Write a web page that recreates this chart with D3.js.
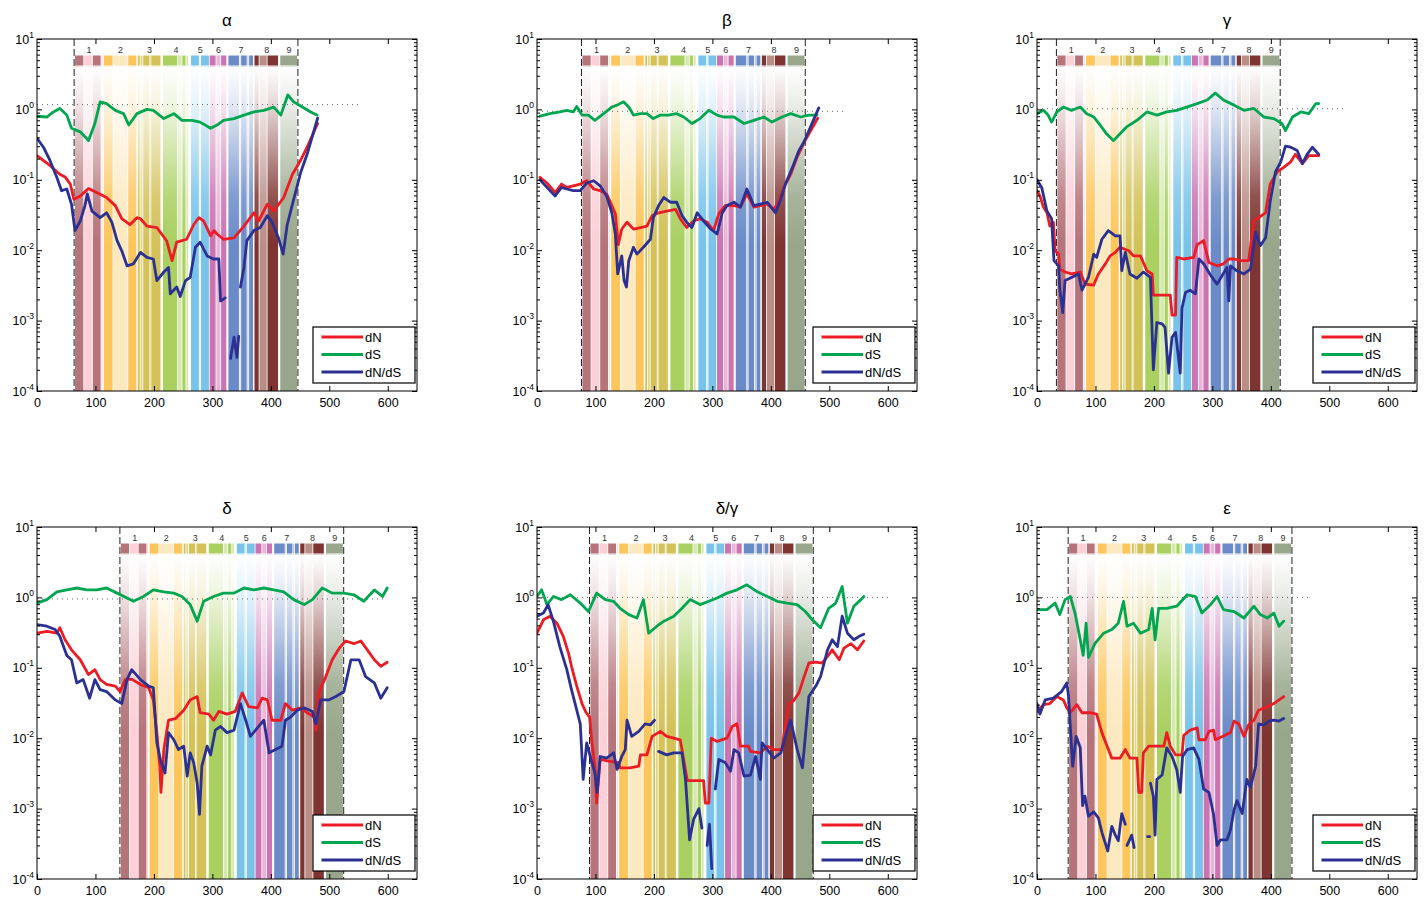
<!DOCTYPE html>
<html>
<head>
<meta charset="utf-8">
<script src="https://cdn.jsdelivr.net/npm/d3@7"></script>
<style>
body { margin: 0; background: #fff; }
svg { display: block; }
text { font-family: "Liberation Sans", Arial, sans-serif; }
</style>
</head>
<body>
<svg id="chart" width="1425" height="897"></svg>
<script>
// panel titles and where the domain bands begin in each panel
const titles = ['α', 'β', 'γ', 'δ', 'δ/γ', 'ε'];
const bandStart = [65.1, 77.7, 34.8, 143.4, 91.4, 54.9];
const dottedLevel = [1.17, 0.94, 1.02, 0.95, 1, 1];
const dottedEnd = [556, 528, 525, 595, 602, 468];

// band layout, offsets from band start: [from, to, group, shade]
const bandTemplate = [
  [0, 15.5, 0, 0], [15.5, 30.4, 0, 1], [30.4, 45.1, 0, 0], [45.1, 48, 0, 1],
  [49.2, 65.7, 1, 0], [65.7, 90.9, 1, 1], [90.9, 106.3, 1, 0],
  [107.5, 112, 2, 0], [112, 116.6, 2, 1], [116.6, 128.6, 2, 0], [128.6, 130.3, 2, 1], [130.3, 147.5, 2, 0],
  [150.4, 176.1, 3, 0], [176.1, 183.5, 3, 1], [183.5, 190.4, 3, 0], [190.4, 195, 3, 1],
  [198.4, 213.1, 4, 0], [213.1, 215.5, 4, 1], [215.5, 230.3, 4, 0],
  [230.3, 241.8, 5, 0], [241.8, 249.8, 5, 1], [249.8, 260.1, 5, 0],
  [262.3, 281.7, 6, 0], [281.7, 284.1, 6, 1], [284.1, 294.9, 6, 0], [294.9, 297.8, 6, 1], [297.8, 305.7, 6, 0],
  [306.9, 315.5, 7, 0], [315.5, 329.2, 7, 1], [329.2, 348.6, 7, 0],
  [351, 381.2, 8, 0]
];
const groupLabels = ['1', '2', '3', '4', '5', '6', '7', '8', '9'];
const groupColors = [
  ['#b5737a', '#fbd0d6'], ['#fdc65c', '#fde9c0'], ['#d3c258', '#e2d68c'],
  ['#a9d061', '#d5e9ae'], ['#79c3ea', '#b7def4'], ['#cc73b1', '#e8b6d8'],
  ['#6b8bc8', '#a9bce2'], ['#7e3431', '#b98e86'], ['#98a78b', '#c9d1c0']
];

const seriesNames = ['dN', 'dS', 'dN/dS'];
const seriesColors = ['#ec1c24', '#00a650', '#2b3192'];
const xTicks = [0, 100, 200, 300, 400, 500, 600];
const yTicks = [1e-4, 1e-3, 1e-2, 1e-1, 1, 10];
const yTickExp = ['-4', '-3', '-2', '-1', '0', '1'];

// alpha
const alphaDN = [[0,.22],[22,.16],[39,.12],[48,.11],[57,.087],[63,.053],[74,.059],[88,.075],[102,.066],[119,.056],[134,.043],[145,.028],[159,.023],[171,.029],[177,.028],[188,.022],[205,.021],[222,.0135],[231,.0071],[239,.013],[256,.0143],[268,.023],[277,.029],[285,.026],[297,.016],[303,.019],[308,.017],[319,.0143],[337,.015],[354,.022],[371,.034],[379,.026],[394,.045],[405,.036],[422,.056],[437,.12],[451,.19],[462,.29],[480,.63]];
const alphaDS = [[0,.8],[17,.78],[28,.92],[39,1.03],[51,.83],[59,.54],[74,.48],[82,.41],[88,.36],[99,.63],[108,1.28],[119,1.21],[134,.97],[148,.87],[157,.6],[171,.87],[188,1.0],[199,.97],[217,.74],[234,.87],[248,.7],[265,.7],[279,.66],[297,.54],[308,.6],[319,.7],[337,.74],[354,.83],[371,.92],[388,.97],[405,1.08],[417,.83],[429,1.6],[439,1.28],[454,1.08],[468,.92],[479,.83]];
const alphaW = [[0,.39],[11,.29],[22,.19],[34,.108],[42,.07],[51,.074],[59,.045],[65,.019],[74,.026],[82,.043],[86,.063],[94,.036],[108,.029],[119,.034],[128,.025],[137,.0137],[145,.0098],[154,.006],[165,.0064],[177,.0093],[188,.0079],[199,.0075],[205,.0037],[217,.0049],[225,.0057],[228,.0024],[239,.003],[245,.0022],[254,.0037],[262,.0041],[271,.011],[279,.013],[291,.0083],[302,.0075],[311,.0075],[314,.0019],[322,.0021],[326,null],[331,.00029],[337,.00058],[342,.0003],[345,.0006],[346,null],[348,.003],[354,.0057],[359,.0137],[371,.019],[382,.021],[394,.031],[402,.025],[413,.015],[421,.0088],[428,.023],[437,.045],[451,.127],[462,.23],[480,.75]];

// beta
const betaDN = [[5,.108],[17,.09],[31,.066],[42,.087],[51,.078],[62,.082],[74,.087],[85,.097],[97,.074],[108,.07],[119,.063],[128,.043],[134,.033],[139,.012],[145,.02],[154,.025],[165,.02],[177,.021],[188,.022],[197,.031],[208,.034],[222,.036],[237,.038],[245,.028],[256,.021],[268,.026],[279,.028],[291,.025],[302,.019],[311,.033],[322,.043],[337,.043],[348,.041],[359,.063],[371,.041],[382,.043],[394,.045],[405,.038],[414,.05],[422,.078],[434,.12],[445,.21],[457,.34],[480,.75]];
const betaDS = [[5,.8],[22,.87],[39,.92],[51,.97],[62,.92],[68,1.1],[77,.83],[88,.83],[99,.7],[114,.87],[128,1.08],[137,1.15],[148,1.28],[157,1.08],[165,.83],[177,.87],[188,.87],[199,.74],[211,.83],[225,.83],[239,.87],[251,.78],[265,.63],[279,.74],[294,.97],[308,.83],[319,.78],[337,.78],[354,.63],[371,.7],[388,.78],[402,.66],[419,.78],[434,.87],[451,.78],[465,.83],[479,.83]];
const betaW = [[5,.1],[17,.078],[31,.059],[42,.078],[51,.074],[62,.07],[74,.07],[85,.09],[97,.097],[108,.082],[119,.059],[128,.034],[134,.017],[138,.0046],[145,.0083],[149,.0037],[153,.003],[157,.0071],[165,.011],[171,.0088],[182,.011],[194,.0143],[199,.029],[208,.043],[217,.056],[228,.048],[239,.048],[248,.031],[256,.025],[265,.021],[274,.034],[285,.026],[297,.02],[308,.017],[317,.034],[325,.043],[337,.048],[348,.041],[359,.074],[371,.043],[382,.045],[394,.048],[408,.034],[417,.053],[425,.087],[437,.15],[448,.26],[457,.35],[482,1.05]];

// gamma
const gammaDN = [[0,.07],[5,.059],[11,.041],[17,.034],[22,.022],[28,.025],[31,.0098],[37,.0088],[39,.0054],[48,.0049],[59,.0046],[74,.0049],[82,.0033],[97,.0032],[105,.0046],[117,.0064],[125,.0083],[134,.0093],[142,.011],[157,.0098],[165,.0083],[177,.0083],[188,.0051],[197,.0046],[199,.0023],[217,.0023],[228,.0023],[231,.0012],[237,.0012],[239,.0079],[251,.0075],[268,.0079],[274,.012],[285,.0137],[294,.0067],[308,.006],[319,.0064],[328,.0075],[337,.0075],[348,.0071],[362,.0071],[371,.026],[379,.029],[391,.034],[399,.087],[411,.13],[422,.15],[434,.18],[442,.23],[454,.17],[465,.22],[482,.22]];
const gammaDS = [[0,.87],[11,.97],[19,.83],[25,.66],[34,.92],[45,1.08],[59,.97],[74,1.08],[85,.87],[97,.78],[108,.6],[119,.45],[131,.36],[142,.45],[154,.57],[171,.7],[188,.92],[205,.83],[222,.92],[239,.97],[256,1.08],[274,1.21],[291,1.36],[305,1.7],[319,1.36],[337,1.15],[354,.97],[371,1.03],[388,.78],[405,.74],[419,.63],[425,.5],[437,.78],[451,.92],[465,.87],[477,1.21],[482,1.21]];
const gammaW = [[0,.1],[8,.078],[17,.036],[25,.028],[29,.0071],[37,.006],[39,.0028],[44,.0013],[48,.0037],[59,.0041],[71,.0046],[77,.0027],[88,.0041],[97,.0088],[102,.0079],[111,.0143],[122,.019],[134,.016],[142,.016],[145,.0051],[151,.0093],[159,.0046],[171,.004],[182,.0049],[194,.0041],[199,.0002],[205,.00094],[214,.0009],[219,.0008],[225,.00018],[231,.00058],[237,.00068],[245,.00018],[248,.0015],[254,.0025],[262,.0027],[271,.0024],[277,.0075],[285,.0064],[297,.0044],[308,.0033],[317,.0044],[325,.0057],[328,.0019],[331,.006],[342,.0051],[354,.0046],[365,.0054],[374,.018],[382,.0116],[391,.015],[399,.05],[408,.13],[417,.18],[425,.3],[434,.29],[445,.26],[454,.17],[462,.23],[471,.29],[482,.23]];

// delta
const deltaDN = [[0,.31],[17,.33],[34,.31],[39,.37],[48,.25],[59,.18],[74,.13],[88,.08],[99,.094],[108,.068],[119,.058],[134,.055],[142,.046],[151,.068],[162,.069],[177,.058],[191,.052],[199,.035],[205,.012],[210,.004],[212,.0017],[217,.0069],[225,.018],[237,.019],[251,.025],[262,.035],[274,.039],[279,.023],[294,.022],[302,.018],[311,.024],[325,.022],[339,.024],[351,.044],[362,.028],[377,.027],[385,.037],[394,.035],[402,.018],[417,.018],[425,.031],[437,.025],[451,.027],[462,.023],[474,.02],[477,.013],[482,.044],[494,.075],[505,.13],[517,.19],[528,.24],[542,.22],[554,.24],[565,.18],[577,.13],[588,.105],[599,.12]];
const deltaDS = [[0,.83],[17,.93],[34,1.2],[51,1.28],[68,1.36],[85,1.28],[102,1.28],[119,1.36],[137,1.15],[154,.98],[165,.88],[182,1.03],[199,1.28],[217,1.2],[234,1.15],[248,1.03],[262,.79],[274,.46],[285,.88],[302,1.03],[319,1.15],[337,1.15],[354,1.36],[371,1.28],[388,1.36],[405,1.28],[422,1.2],[439,.93],[457,.79],[471,.93],[488,1.36],[505,1.15],[525,1.15],[542,1.09],[559,.88],[577,1.28],[591,1.03],[599,1.36]];
const deltaW = [[0,.41],[17,.39],[31,.35],[39,.28],[51,.15],[59,.13],[68,.061],[79,.068],[90,.037],[99,.068],[108,.049],[119,.046],[134,.035],[145,.031],[154,.068],[162,.094],[177,.068],[191,.055],[199,.052],[205,.0086],[211,.005],[219,.0032],[225,.012],[234,.0095],[242,.0069],[251,.0077],[257,.0029],[262,.0062],[268,.0045],[274,.0023],[278,.00083],[282,.004],[291,.0077],[297,.0058],[305,.013],[314,.0147],[325,.012],[337,.013],[348,.031],[357,.018],[365,.0106],[377,.014],[388,.018],[397,.0062],[408,.0069],[419,.0077],[425,.018],[434,.02],[445,.025],[457,.027],[471,.024],[477,.016],[485,.035],[499,.035],[511,.039],[525,.046],[537,.13],[551,.13],[562,.075],[577,.061],[588,.037],[599,.052]];

// delta/gamma
const dgDN = [[0,.31],[11,.48],[22,.54],[34,.43],[45,.28],[54,.16],[59,.105],[68,.055],[77,.031],[84,.023],[90,.02],[94,.0086],[99,.004],[102,.0012],[108,.005],[125,.0047],[139,.0045],[142,.0038],[159,.0038],[174,.004],[177,.0058],[188,.0058],[197,.0106],[211,.0125],[222,.0106],[234,.01],[245,.0095],[248,.0069],[257,.0025],[268,.0025],[285,.0025],[288,.0012],[294,.0012],[298,.01],[308,.009],[325,.01],[334,.0147],[342,.016],[348,.0077],[362,.0077],[365,.0065],[382,.0062],[394,.0077],[405,.0069],[419,.0069],[422,.0106],[431,.031],[439,.034],[448,.044],[457,.075],[465,.117],[477,.12],[488,.117],[497,.145],[505,.18],[517,.13],[525,.19],[537,.22],[548,.18],[559,.24]];
const dgDS = [[0,1.03],[8,1.28],[17,.79],[28,1.03],[42,.93],[57,1.09],[74,.83],[88,.63],[102,1.15],[117,.93],[131,.88],[142,.7],[157,.57],[171,.51],[182,.93],[191,.31],[205,.39],[217,.46],[234,.54],[248,.7],[262,.93],[279,.79],[294,.88],[308,.98],[325,1.15],[342,1.28],[359,1.51],[377,1.2],[394,1.03],[411,.88],[428,.83],[445,.79],[459,.63],[471,.48],[485,.37],[499,.7],[511,.83],[522,1.43],[531,.43],[542,.75],[554,.93],[559,1.03]];
const dgW = [[0,.54],[11,.6],[19,.79],[28,.46],[39,.2],[51,.094],[59,.049],[68,.025],[74,.016],[79,.0026],[85,.0086],[91,.0055],[99,.0032],[103,.0017],[108,.0055],[119,.0052],[131,.0062],[137,.0036],[145,.0055],[151,.0069],[154,.018],[162,.0106],[174,.0125],[185,.016],[194,.0155],[201,.018],[204,null],[208,.0065],[222,.0058],[234,.0062],[248,.0062],[254,.0026],[261,.00036],[268,.00071],[277,.001],[282,.00053],[286,null],[291,.0003],[295,.0006],[299,.00014],[302,null],[305,.0019],[311,.005],[322,.0045],[331,.0034],[337,.0069],[345,.0062],[354,.0029],[365,.003],[374,.0055],[382,.0026],[385,.0086],[394,.0069],[405,.0052],[417,.0062],[428,.013],[434,.018],[445,.0069],[454,.0038],[459,.0106],[465,.039],[477,.055],[485,.075],[497,.18],[505,.25],[514,.2],[522,.54],[531,.31],[542,.25],[551,.28],[559,.3]];

// epsilon
const epsDN = [[0,.024],[11,.03],[22,.031],[34,.039],[45,.035],[51,.027],[57,.023],[68,.03],[77,.023],[91,.023],[102,.022],[111,.012],[119,.0081],[128,.0052],[142,.0052],[151,.0069],[159,.0052],[171,.0052],[174,.0017],[179,.0017],[182,.0062],[191,.0077],[205,.0077],[217,.0077],[222,.012],[228,.0077],[237,.0058],[248,.0058],[251,.011],[262,.013],[274,.014],[277,.0095],[288,.0095],[294,.0125],[302,.013],[305,.0095],[317,.0106],[331,.012],[337,.0175],[345,.016],[354,.0106],[362,.0155],[371,.018],[379,.025],[394,.028],[405,.031],[414,.035],[422,.039]];
const epsDS = [[0,.67],[17,.67],[31,.83],[39,.57],[48,.93],[57,1.03],[65,.6],[74,.25],[79,.15],[84,.43],[88,.14],[99,.22],[114,.31],[128,.35],[139,.43],[148,.88],[154,.39],[165,.43],[177,.31],[191,.35],[197,.7],[202,.25],[208,.7],[222,.7],[239,.75],[257,1.09],[271,1.03],[282,.6],[297,.79],[308,1.03],[319,.67],[337,.63],[354,.51],[371,.75],[382,.57],[394,.51],[405,.6],[414,.39],[422,.46]];
const epsW = [[0,.031],[5,.022],[14,.035],[28,.037],[42,.046],[51,.061],[54,.039],[58,.0106],[61,.004],[67,.0106],[74,.0073],[78,.0011],[82,.0015],[88,.00078],[97,.0009],[105,.00074],[111,.00046],[121,.00025],[128,.00056],[134,.00042],[139,.00035],[145,.00085],[151,.0006],[152,null],[154,.0003],[162,.00042],[166,.00028],[168,null],[189,.0004],[193,.0004],[193.5,null],[194,.0023],[199,.0015],[202,.00042],[205,.0026],[214,.003],[222,.0073],[231,.0055],[239,.0036],[245,.0017],[249,.0055],[257,.0069],[268,.0073],[277,.005],[285,.0019],[294,.0017],[302,.00083],[308,.0003],[314,.00036],[325,.00036],[331,.0005],[337,.00095],[342,.0013],[351,.00085],[359,.0026],[365,.002],[374,.004],[379,.016],[388,.0155],[397,.0175],[405,.018],[414,.0175],[422,.019]];

const panelSeries = [
  [alphaDN, alphaDS, alphaW],
  [betaDN, betaDS, betaW],
  [gammaDN, gammaDS, gammaW],
  [deltaDN, deltaDS, deltaW],
  [dgDN, dgDS, dgW],
  [epsDN, epsDS, epsW]
];

const colX = [37, 537, 1037];
const rowY = [39, 527];
const w = 380, h = 352;
const stripTop = 16.5, stripBottom = 27.5;

const svg = d3.select('#chart');
const defs = svg.append('defs');
const fade = defs.append('linearGradient').attr('id', 'fade')
  .attr('x1', 0).attr('y1', 0).attr('x2', 0).attr('y2', 1);
[[0, 1], [0.12, 0.8], [0.25, 0.5], [0.4, 0.15], [0.55, 0]].forEach(s => {
  fade.append('stop').attr('offset', s[0]).attr('stop-color', '#fff').attr('stop-opacity', s[1]);
});
defs.append('clipPath').attr('id', 'plotclip')
  .append('rect').attr('width', w).attr('height', h);

const x = d3.scaleLinear().domain([0, 650]).range([0, w]);
const y = d3.scaleLog().domain([1e-4, 10]).range([h, 0]);
const minorTicks = y.ticks().filter(v => yTicks.indexOf(v) < 0 && Math.abs(Math.log10(v) % 1) > 1e-6);

const line = d3.line()
  .defined(d => d[1] != null)
  .x(d => x(d[0]))
  .y(d => y(d[1]));

titles.forEach((title, i) => {
  const left = colX[i % 3], top = rowY[Math.floor(i / 3)];
  const g = svg.append('g').attr('transform', `translate(${left},${top})`);
  const s0 = bandStart[i];

  // coloured bands, fading to white towards the top
  bandTemplate.forEach(b => {
    const x0 = x(s0 + b[0]), x1 = x(s0 + b[1]);
    const c = groupColors[b[2]][b[3]];
    g.append('rect').attr('x', x0).attr('y', stripBottom)
      .attr('width', Math.max(0.6, x1 - x0 - 0.8)).attr('height', h - stripBottom)
      .attr('fill', c);
    g.append('rect').attr('x', x0).attr('y', stripTop)
      .attr('width', Math.max(0.6, x1 - x0 - 0.8)).attr('height', stripBottom - stripTop - 1)
      .attr('fill', c);
  });
  g.append('rect').attr('x', x(s0) - 1).attr('y', stripBottom)
    .attr('width', x(s0 + 381.2) - x(s0) + 2).attr('height', h - stripBottom)
    .attr('fill', 'url(#fade)');

  // group numbers over the strip
  groupLabels.forEach((lab, gi) => {
    const parts = bandTemplate.filter(b => b[2] === gi);
    const mid = s0 + (parts[0][0] + parts[parts.length - 1][1]) / 2;
    g.append('text').attr('x', x(mid)).attr('y', 13.5)
      .attr('text-anchor', 'middle').attr('font-size', 9).attr('fill', '#333')
      .text(lab);
  });

  // dotted reference line and dashed domain limits
  g.append('line').attr('x1', x(0)).attr('x2', x(dottedEnd[i]))
    .attr('y1', y(dottedLevel[i])).attr('y2', y(dottedLevel[i]))
    .attr('stroke', '#666').attr('stroke-width', 1).attr('stroke-dasharray', '1,4');
  [s0 - 1.6, s0 + 381.2].forEach(v => {
    g.append('line').attr('x1', x(v)).attr('x2', x(v)).attr('y1', 0).attr('y2', h)
      .attr('stroke', '#222').attr('stroke-width', 1).attr('stroke-dasharray', '7,3');
  });

  // curves
  const curves = g.append('g').attr('clip-path', 'url(#plotclip)');
  panelSeries[i].forEach((data, si) => {
    curves.append('path').datum(data).attr('d', line)
      .attr('fill', 'none').attr('stroke', seriesColors[si])
      .attr('stroke-width', 2.8).attr('stroke-linejoin', 'round').attr('stroke-linecap', 'round');
  });

  // axes, ticks pointing inward
  const ax = (axis, tr) => g.append('g').attr('transform', tr).call(axis)
    .call(a => a.select('.domain').remove());
  const bottom = ax(d3.axisBottom(x).tickValues(xTicks).tickSizeInner(-5).tickSizeOuter(0).tickPadding(7), `translate(0,${h})`);
  bottom.selectAll('text').attr('font-size', 12.5).attr('fill', '#000')
    .attr('font-family', '"Liberation Sans", Arial, sans-serif');
  ax(d3.axisTop(x).tickValues(xTicks.slice(1)).tickSizeInner(-5).tickSizeOuter(0).tickFormat(''), 'translate(0,0)');
  ax(d3.axisLeft(y).tickValues(yTicks).tickSizeInner(-5).tickSizeOuter(0).tickFormat(''), 'translate(0,0)');
  ax(d3.axisLeft(y).tickValues(minorTicks).tickSizeInner(-3).tickSizeOuter(0).tickFormat(''), 'translate(0,0)');
  ax(d3.axisRight(y).tickValues(yTicks).tickSizeInner(-5).tickSizeOuter(0).tickFormat(''), `translate(${w},0)`);
  ax(d3.axisRight(y).tickValues(minorTicks).tickSizeInner(-3).tickSizeOuter(0).tickFormat(''), `translate(${w},0)`);
  g.selectAll('.tick line').attr('stroke', '#000');

  yTicks.forEach((v, k) => {
    const t = g.append('text').attr('x', -3).attr('y', y(v) + 4.5)
      .attr('text-anchor', 'end').attr('font-size', 12.5);
    t.append('tspan').text('10');
    t.append('tspan').attr('dy', -6).attr('font-size', 8.5).text(yTickExp[k]);
  });

  g.append('rect').attr('width', w).attr('height', h)
    .attr('fill', 'none').attr('stroke', '#000').attr('stroke-width', 1);

  // title
  g.append('text').attr('x', w / 2).attr('y', -13).attr('text-anchor', 'middle')
    .attr('font-family', '"Liberation Serif", "Times New Roman", serif')
    .attr('font-size', 17).text(title);

  // legend
  const lg = g.append('g').attr('transform', 'translate(276,288)');
  lg.append('rect').attr('width', 102).attr('height', 56)
    .attr('fill', '#fff').attr('stroke', '#000').attr('stroke-width', 1.2);
  seriesNames.forEach((name, si) => {
    const yy = 10 + si * 17.5;
    lg.append('line').attr('x1', 8.5).attr('x2', 50).attr('y1', yy).attr('y2', yy)
      .attr('stroke', seriesColors[si]).attr('stroke-width', 2.8);
    lg.append('text').attr('x', 52).attr('y', yy + 4.5).attr('font-size', 13).text(name);
  });
});
</script>
</body>
</html>
